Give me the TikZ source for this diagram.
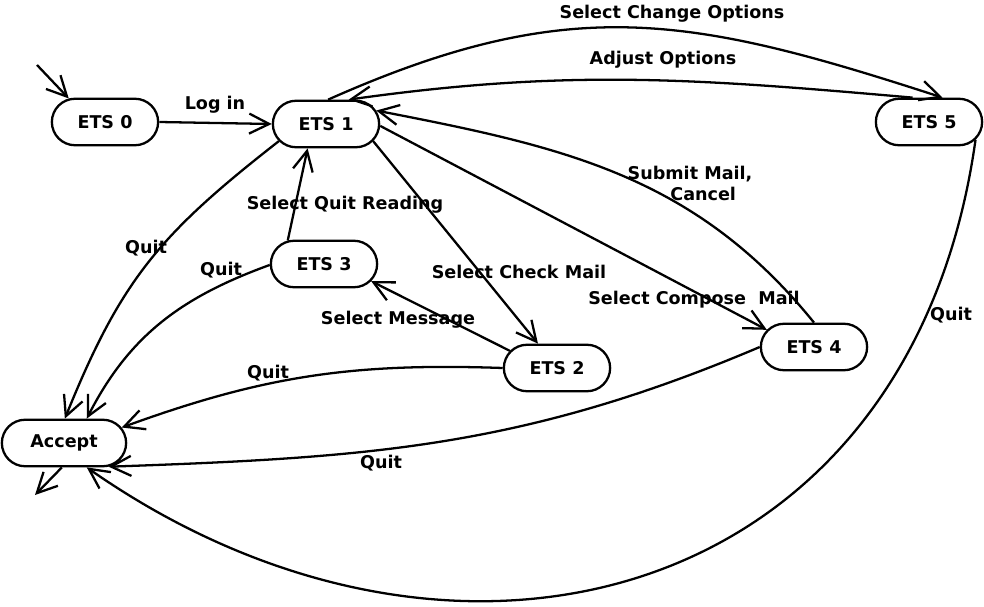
\documentclass[tikz,border=0pt]{standalone}
\usepackage{fontspec}
\setmainfont{DejaVu Sans}
\usetikzlibrary{arrows.meta,shapes.misc}

\begin{document}
\begin{tikzpicture}[
    x=0.02cm, y=0.02cm,
    every node/.style={font=\bfseries},
    state/.style={
        rounded rectangle, draw,
        line width=1.3pt,
        minimum width=2.36cm,
        minimum height=0.93cm
    },
    trans/.style={
        line width=1.3pt,
        -{Straight Barb[length=0.4cm,width=0.4cm]}
    },
    lbl/.style={align=center}
]
\useasboundingbox (0,0) rectangle (984,606);

\node[state] (e0) at (105,484) {ETS 0};
\node[state] (e1) at (326,482) {ETS 1};
\node[state] (e3) at (324,342) {ETS 3};
\node[state] (e2) at (557,238) {ETS 2};
\node[state] (e4) at (814,259) {ETS 4};
\node[state] (e5) at (929,484) {ETS 5};
\node[state, minimum width=2.72cm] (acc) at (64,163) {Accept};

\coordinate (init) at (37,541);
\coordinate (fin) at (35,111);

% start and final
\draw[trans] (init) -- (e0.147);
\draw[trans] (acc.265) -- (fin);

% mail transitions
\draw[trans] (e0.east) -- (e1.west) node[lbl] (tLogin) at (215,501) {Log in};
\draw[trans] (e1.85) to[out=24,in=162,looseness=1.1] (e5.61)
    node[lbl] (tChange) at (672,592) {Select Change Options};
\draw[trans] (e5.124) to[out=175,in=8] (e1.47)
    node[lbl] (tAdjust) at (663,546) {Adjust Options};
\draw[trans] (e4.90) to[out=129,in=-11] (e1.15)
    node[lbl] (tSubmit) at (690,423) {Submit Mail,\\\hspace*{1.5em}Cancel};
\draw[trans] (e1.-20) -- (e2.128)
    node[lbl] (tCheck) at (519,334) {Select Check Mail};
\draw[trans] (e1.-2) -- (e4.160)
    node[lbl] (tCompose) at (694,306) {Select Compose\ \ Mail};
\draw[trans] (e3.147) -- (e1.233)
    node[lbl] (tQuitRead) at (345,401) {Select Quit Reading};
\draw[trans] (e2.160) -- (e3.-20)
    node[lbl] (tMessage) at (398,286) {Select Message};

% quit transitions
\draw[trans] (e1.200) to[out=218,in=68,looseness=1.1] (acc.88)
    node[lbl] (q1) at (146,358) {Quit};
\draw[trans] (e3.181) to[out=200,in=63] (acc.47)
    node[lbl] (q3) at (221,336) {Quit};
\draw[trans] (e2.west) to[out=178,in=20] (acc.15)
    node[lbl] (q2) at (268,233) {Quit};
\draw[trans] (e4.west) to[out=203,in=2] (acc.-28)
    node[lbl] (q4) at (381,143) {Quit};
\draw[trans] (e5.-21) .. controls +(-65,-465) and +(369,-258) .. (acc.-47)
    node[lbl] (q5) at (951,291) {Quit};
\end{tikzpicture}
\end{document}
